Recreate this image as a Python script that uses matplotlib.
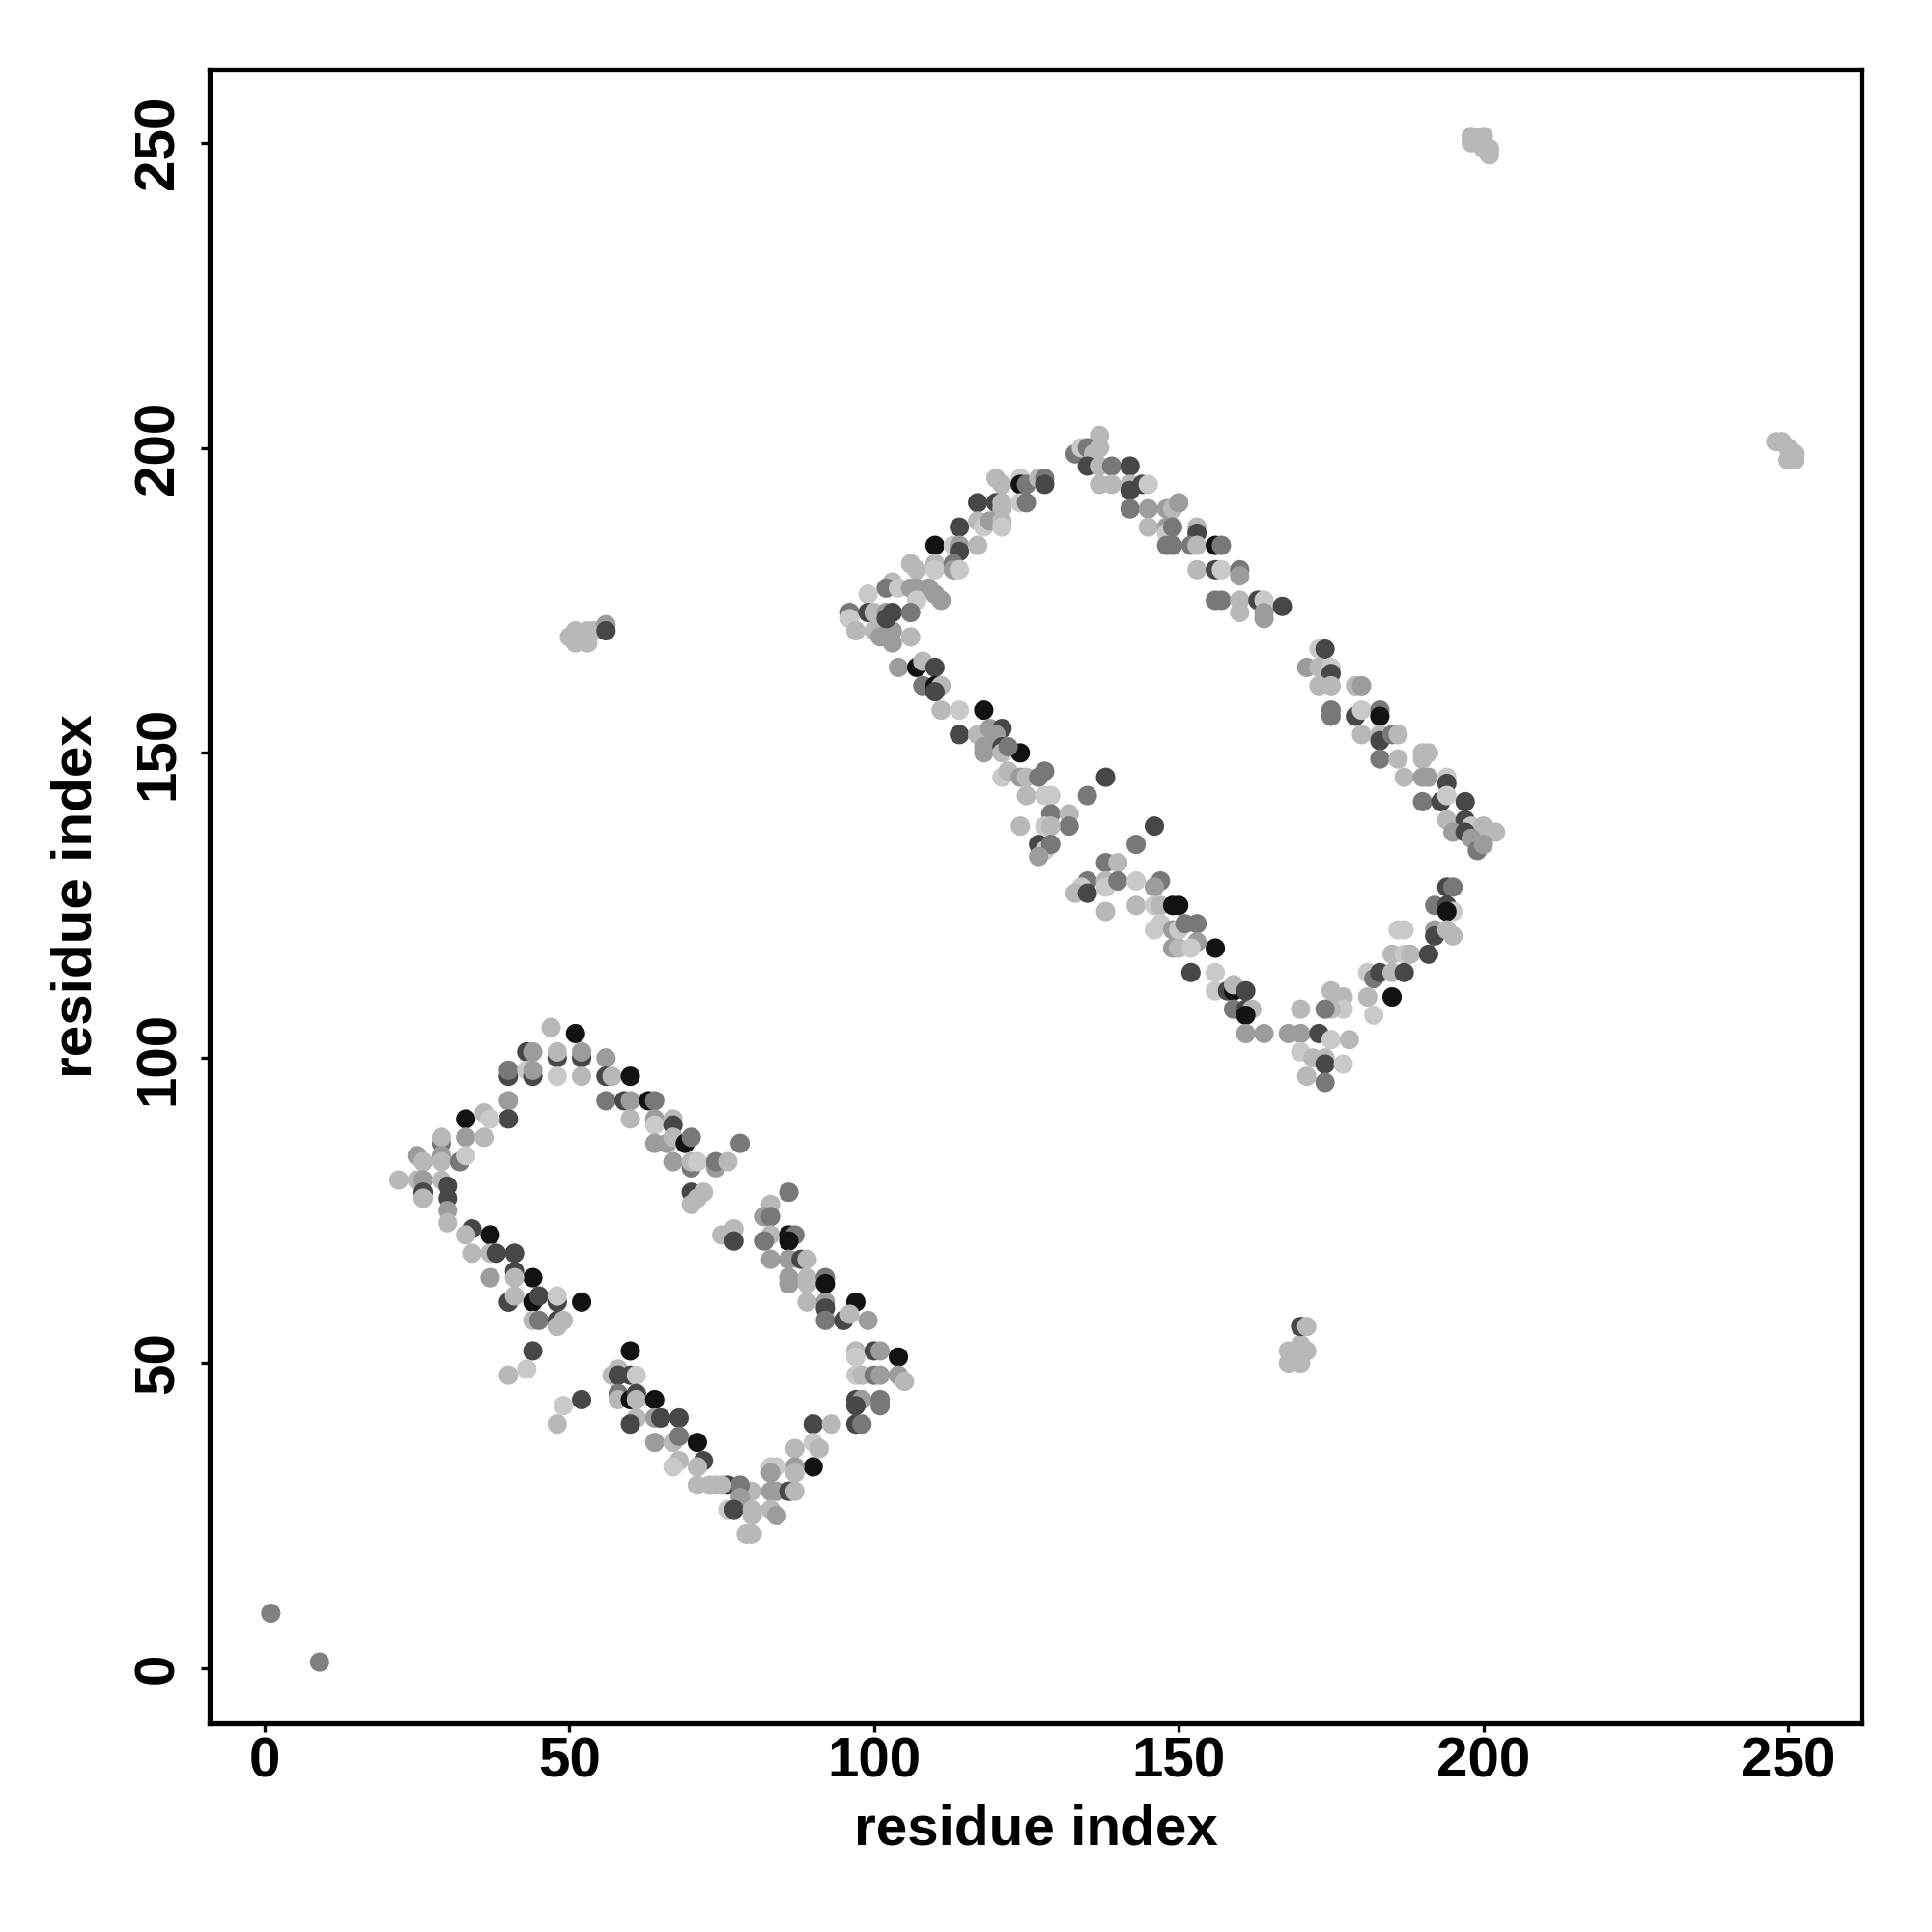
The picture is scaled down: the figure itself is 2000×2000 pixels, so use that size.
import matplotlib
matplotlib.use("Agg")
import matplotlib.pyplot as plt

# shade codes -> gray level
shade_levels = {"k": 0.07, "d": 0.28, "m": 0.47, "g": 0.61, "l": 0.72, "v": 0.79, "p": 0.50}

# isolated contacts near the diagonal start
corner_pts = [(1, 9, "p"), (9, 1, "p")]

# lower rectangle (x, y, shade)
lower_pts = [
    (47, 105, "l"), (51, 104, "k"), (43, 101, "d"), (44, 101, "g"), (48, 100, "d"), (48, 101, "l"),
    (52, 100, "d"), (52, 101, "g"), (56, 100, "g"),
    (40, 97, "d"), (40, 98, "m"), (43, 98, "v"), (44, 97, "d"), (44, 98, "g"), (48, 97, "v"),
    (52, 97, "l"), (56, 97, "d"), (57, 97, "l"), (60, 97, "k"),
    (56, 93, "m"), (59, 93, "d"), (60, 93, "g"), (63, 93, "k"), (64, 93, "m"),
    (60, 90, "l"), (64, 90, "g"), (64, 89, "v"), (64, 86, "g"),
    (40, 93, "g"), (40, 90, "d"), (33, 90, "k"), (36, 91, "l"), (37, 90, "v"),
    (29, 86, "m"), (29, 87, "l"), (33, 87, "g"), (36, 87, "l"),
    (25, 84, "g"), (26, 83, "l"), (29, 84, "g"), (29, 83, "l"), (32, 83, "m"), (33, 84, "v"),
    (22, 80, "l"), (25, 80, "l"), (26, 80, "g"), (29, 80, "l"),
    (26, 78, "d"), (26, 77, "l"), (30, 79, "d"), (30, 77, "d"), (30, 75, "g"), (30, 73, "l"),
    (34, 72, "d"), (33, 71, "l"), (37, 71, "k"),
    (34, 68, "l"), (37, 68, "l"), (38, 68, "d"), (41, 68, "d"),
    (37, 64, "g"), (41, 65, "d"), (44, 64, "k"), (41, 64, "l"),
    (67, 90, "l"), (67, 89, "d"),
    (66, 86, "g"), (67, 87, "l"), (69, 86, "k"), (70, 87, "m"), (78, 86, "m"),
    (67, 83, "g"), (70, 82, "m"), (70, 83, "l"), (71, 83, "v"), (74, 82, "g"), (74, 83, "m"), (76, 83, "l"),
    (70, 78, "d"), (72, 78, "l"), (70, 76, "l"), (71, 77, "l"),
    (86, 78, "m"), (83, 76, "l"), (82, 74, "g"), (83, 74, "m"),
    (77, 72, "l"), (75, 71, "l"), (77, 70, "d"), (83, 71, "l"), (82, 70, "m"),
    (86, 71, "k"), (87, 71, "m"), (86, 70, "k"),
    (83, 67, "g"), (86, 67, "g"), (88, 67, "d"), (89, 67, "l"),
    (86, 64, "g"), (89, 64, "l"), (92, 64, "m"),
    (40, 60, "d"), (41, 61, "l"), (44, 60, "k"), (45, 61, "d"), (48, 60, "d"), (48, 61, "v"), (52, 60, "k"),
    (44, 57, "l"), (45, 57, "m"), (48, 57, "d"), (49, 57, "l"), (48, 56, "l"),
    (44, 52, "d"), (43, 49, "v"), (40, 48, "l"),
    (60, 52, "k"), (57, 48, "l"), (58, 49, "l"), (58, 48, "d"), (60, 48, "d"), (61, 48, "v"),
    (58, 45, "m"), (58, 44, "l"), (60, 44, "k"), (61, 45, "d"), (61, 44, "l"), (64, 44, "k"),
    (52, 44, "d"), (49, 43, "v"), (48, 40, "l"),
    (61, 41, "l"), (60, 40, "d"), (64, 41, "g"), (64, 37, "g"),
    (86, 63, "g"), (89, 63, "l"), (92, 63, "k"), (89, 60, "l"), (92, 60, "g"), (92, 59, "d"), (97, 60, "k"),
    (92, 57, "m"), (95, 57, "d"), (96, 58, "l"), (99, 57, "g"),
    (97, 52, "l"), (97, 51, "v"), (100, 52, "d"), (101, 52, "g"), (104, 51, "k"),
    (97, 48, "v"), (98, 48, "l"), (100, 48, "m"), (101, 48, "g"), (104, 48, "g"), (105, 47, "l"),
    (97, 44, "d"), (98, 44, "g"), (97, 43, "d"), (101, 44, "m"), (101, 43, "m"),
    (97, 40, "d"), (98, 40, "m"), (90, 40, "d"), (93, 40, "l"),
    (87, 36, "l"), (90, 37, "v"), (91, 36, "l"),
    (90, 33, "k"), (87, 33, "g"), (87, 32, "l"), (83, 33, "v"), (84, 33, "v"), (83, 32, "g"),
    (80, 29, "l"), (83, 29, "g"), (84, 29, "g"), (86, 29, "d"), (87, 29, "l"),
    (76, 30, "d"), (78, 30, "m"), (78, 28, "g"), (73, 30, "l"), (75, 30, "l"), (74, 30, "l"),
    (76, 26, "v"), (77, 26, "d"), (80, 26, "l"), (80, 25, "l"), (83, 26, "l"), (84, 25, "g"),
    (79, 22, "l"), (80, 22, "l"),
    (65, 41, "d"), (68, 41, "d"), (67, 37, "l"), (68, 38, "m"), (71, 37, "k"),
    (68, 34, "l"), (67, 33, "v"), (72, 34, "d"), (71, 33, "l"), (71, 30, "l"),
]

# upper rectangle (x, y, shade)
upper_pts = [
    (137, 202, "l"), (133, 199, "m"), (134, 200, "v"), (135, 200, "m"), (136, 199, "l"), (137, 200, "l"),
    (135, 197, "d"), (137, 197, "l"), (139, 197, "m"), (142, 197, "d"),
    (137, 194, "l"), (139, 194, "l"), (142, 194, "l"), (142, 193, "d"), (144, 194, "d"), (145, 194, "v"),
    (142, 190, "m"), (145, 190, "g"), (148, 190, "g"), (149, 190, "l"),
    (145, 187, "l"), (148, 187, "g"), (148, 186, "v"), (148, 184, "m"),
    (120, 195, "l"), (121, 194, "l"), (124, 195, "v"), (124, 194, "k"), (125, 194, "m"),
    (127, 195, "l"), (128, 195, "m"), (128, 194, "d"),
    (117, 191, "d"), (120, 191, "d"), (121, 191, "l"), (121, 190, "l"), (124, 191, "v"), (125, 191, "m"),
    (114, 187, "d"), (117, 188, "l"), (118, 187, "v"), (119, 188, "g"), (121, 188, "l"), (121, 187, "v"),
    (110, 184, "k"), (113, 184, "v"), (114, 184, "g"), (114, 183, "d"), (117, 184, "l"),
    (106, 181, "l"), (107, 180, "l"), (110, 181, "l"), (110, 180, "v"), (113, 181, "m"), (113, 180, "g"), (114, 180, "v"),
    (103, 178, "l"), (102, 177, "m"), (104, 177, "v"), (106, 177, "g"), (107, 177, "g"), (109, 177, "g"),
    (110, 176, "g"), (111, 175, "g"), (107, 175, "v"), (99, 176, "v"),
    (96, 173, "m"), (99, 173, "d"), (100, 173, "l"), (102, 173, "g"), (103, 173, "d"), (106, 173, "m"),
    (96, 172, "v"), (97, 170, "l"), (100, 170, "l"), (101, 169, "g"), (103, 170, "g"), (106, 169, "l"), (102, 172, "d"),
    (103, 168, "g"),
    (104, 164, "g"), (107, 164, "k"), (108, 165, "l"), (110, 164, "d"),
    (108, 161, "m"), (110, 161, "k"), (111, 161, "l"), (110, 160, "d"),
    (111, 157, "l"), (114, 157, "v"), (118, 157, "k"),
    (114, 153, "d"), (117, 153, "l"), (119, 154, "g"), (121, 154, "d"), (120, 153, "g"),
    (118, 151, "g"), (121, 151, "d"), (124, 150, "k"),
    (150, 191, "g"), (149, 187, "m"), (153, 187, "l"), (153, 186, "d"),
    (149, 184, "m"), (152, 184, "m"), (153, 184, "l"), (156, 184, "k"), (157, 184, "m"),
    (153, 180, "l"), (156, 180, "d"), (157, 180, "v"), (160, 180, "m"), (160, 179, "g"),
    (156, 175, "m"), (157, 175, "m"), (160, 175, "l"), (160, 173, "l"), (163, 175, "d"), (164, 175, "v"),
    (164, 173, "g"), (164, 172, "g"), (167, 174, "d"),
    (173, 167, "v"), (174, 167, "d"),
    (171, 164, "g"), (173, 164, "l"), (175, 164, "v"), (175, 163, "d"),
    (173, 161, "l"), (175, 161, "l"), (179, 161, "l"), (180, 161, "g"),
    (175, 157, "m"), (175, 156, "m"), (179, 156, "d"), (180, 157, "v"), (183, 157, "m"), (183, 156, "k"),
    (180, 153, "l"), (183, 153, "l"), (183, 152, "d"), (185, 153, "m"), (186, 153, "l"),
    (190, 150, "l"),
    (118, 150, "g"), (121, 150, "l"), (122, 151, "m"),
    (121, 146, "v"), (122, 147, "l"), (124, 146, "g"), (125, 146, "l"), (127, 146, "m"), (128, 147, "m"),
    (125, 143, "l"), (128, 143, "v"), (129, 143, "v"),
    (129, 140, "m"), (132, 140, "l"), (132, 138, "m"), (128, 138, "v"), (129, 138, "l"), (124, 138, "l"),
    (127, 135, "d"), (128, 134, "v"), (129, 135, "m"), (127, 133, "g"),
    (135, 143, "m"), (138, 146, "d"), (146, 138, "d"), (143, 135, "m"),
    (138, 132, "m"), (140, 132, "l"),
    (135, 129, "m"), (134, 128, "v"), (133, 127, "l"), (135, 127, "d"), (138, 129, "l"), (138, 128, "v"),
    (140, 129, "m"), (143, 129, "v"), (147, 129, "m"), (146, 128, "g"),
    (138, 124, "l"), (143, 125, "l"), (146, 125, "v"), (147, 125, "l"), (149, 125, "k"),
    (146, 121, "v"), (147, 122, "v"), (149, 121, "g"), (149, 118, "g"),
    (183, 149, "m"), (186, 149, "l"), (191, 150, "l"), (190, 149, "l"),
    (187, 146, "l"), (190, 146, "g"), (191, 146, "g"), (194, 146, "v"), (194, 145, "d"),
    (190, 142, "m"), (193, 142, "d"), (194, 143, "v"), (197, 142, "d"),
    (194, 139, "l"), (197, 139, "d"), (198, 138, "v"), (200, 138, "l"), (202, 137, "l"), (195, 137, "g"),
    (197, 137, "d"), (198, 136, "g"), (199, 134, "m"), (200, 135, "g"),
    (194, 128, "d"), (195, 128, "m"),
    (192, 125, "m"), (194, 125, "d"), (195, 124, "v"), (194, 124, "k"),
    (186, 121, "v"), (187, 121, "v"), (192, 121, "g"), (192, 120, "d"), (194, 121, "l"), (195, 120, "l"),
    (185, 117, "l"), (187, 117, "v"), (188, 117, "l"), (191, 117, "d"),
    (181, 114, "v"), (182, 113, "m"), (183, 114, "d"), (185, 114, "l"), (187, 114, "d"),
    (175, 111, "l"), (177, 110, "l"), (181, 110, "l"), (185, 110, "k"),
    (182, 107, "v"), (177, 108, "v"), (175, 108, "l"), (174, 108, "m"),
    (170, 108, "l"), (168, 104, "g"), (170, 104, "g"), (173, 104, "d"), (175, 103, "v"), (178, 103, "l"),
    (170, 101, "v"), (172, 100, "l"), (174, 100, "l"), (174, 99, "d"), (177, 99, "v"),
    (171, 97, "l"), (174, 96, "m"),
    (150, 125, "k"), (150, 121, "v"), (151, 122, "m"), (153, 122, "m"), (150, 118, "l"), (153, 119, "g"),
    (152, 118, "v"), (156, 118, "k"),
    (152, 114, "d"), (156, 114, "v"), (156, 111, "v"), (158, 111, "d"), (159, 111, "k"), (159, 112, "l"), (161, 111, "d"),
    (159, 108, "m"), (161, 108, "d"), (162, 108, "l"), (161, 107, "k"),
    (161, 104, "g"), (164, 104, "g"),
]

# small off-diagonal clusters
cluster_pts = [
    (50, 169, "l"), (51, 168, "l"), (51, 170, "l"), (52, 169, "l"), (53, 170, "l"), (53, 168, "l"),
    (54, 170, "l"), (56, 171, "g"), (56, 170, "d"),
    (168, 52, "l"), (168, 50, "l"), (169, 51, "l"), (170, 50, "l"), (170, 53, "l"), (171, 52, "l"),
    (170, 56, "d"), (171, 56, "l"),
    (198, 251, "l"), (198, 250, "l"), (199, 250, "l"), (200, 251, "l"), (200, 249, "l"),
    (201, 249, "l"), (201, 248, "l"),
    (248, 201, "l"), (249, 201, "l"), (250, 200, "l"), (251, 199, "l"), (250, 198, "l"), (251, 198, "l"),
]

x_ticks = [0, 50, 100, 150, 200, 250]
y_ticks = [0, 50, 100, 150, 200, 250]
axis_label = "residue index"

plt.rcParams["font.family"] = ["Liberation Sans", "DejaVu Sans"]
plt.rcParams["font.weight"] = "bold"

fig = plt.figure(figsize=(10, 10), dpi=200)
ax = fig.add_axes([0.1085, 0.108, 0.855, 0.8562])

all_pts = corner_pts + lower_pts + upper_pts + cluster_pts
xs = [p[0] for p in all_pts]
ys = [p[1] for p in all_pts]
cs = [str(shade_levels[p[2]]) for p in all_pts]
ax.scatter(xs, ys, c=cs, s=52, linewidths=0, zorder=3)

ax.set_xlim(-9.04, 262.04)
ax.set_ylim(-9.04, 262.04)
ax.set_xticks(x_ticks)
ax.set_yticks(y_ticks)
ax.set_xticklabels([str(t) for t in x_ticks], fontsize=21, fontweight="bold")
ax.set_yticklabels([str(t) for t in y_ticks], fontsize=21, fontweight="bold",
                   rotation=90, va="center")
ax.tick_params(axis="both", direction="out", length=3.2, width=1.2, color="black")
ax.tick_params(axis="x", pad=1.5)
ax.tick_params(axis="y", pad=6)
for sp in ax.spines.values():
    sp.set_linewidth(1.9)
    sp.set_color("black")

ax.set_xlabel(axis_label, fontsize=21, fontweight="bold", labelpad=6)
ax.set_ylabel(axis_label, fontsize=21, fontweight="bold", labelpad=11)

fig.savefig("out.png", dpi=200, facecolor="white")
